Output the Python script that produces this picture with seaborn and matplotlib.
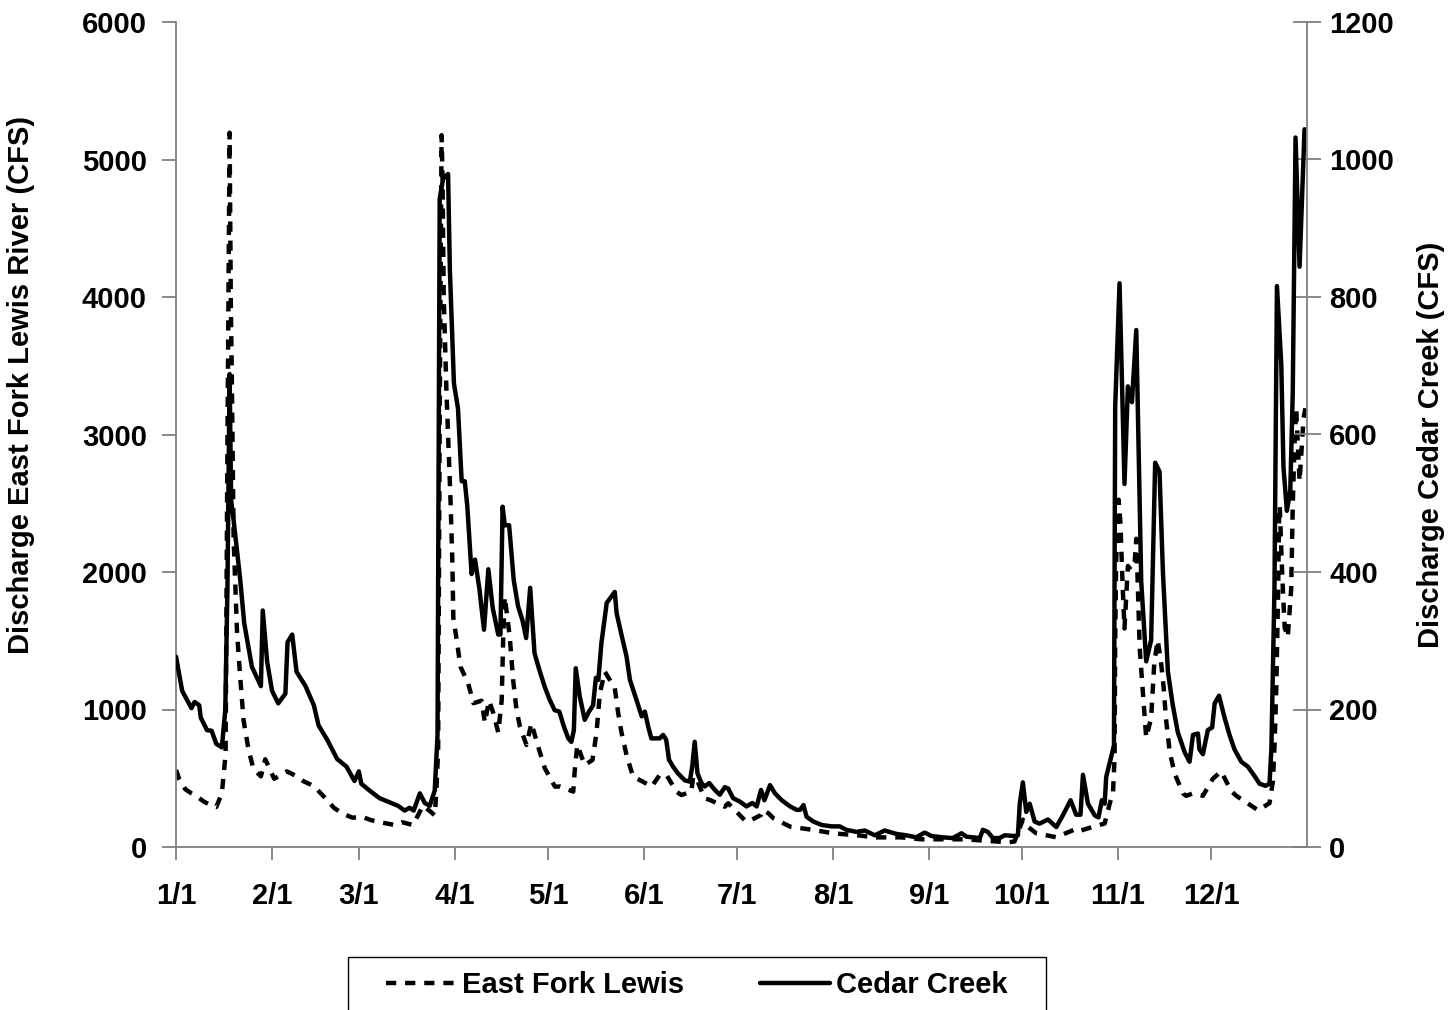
import matplotlib
matplotlib.use("Agg")
import matplotlib.pyplot as plt
from matplotlib.patches import Rectangle
import pandas as pd
import seaborn as sns

# ---- data -------------------------------------------------------------
month_ticks = [0, 31, 59, 90, 120, 151, 181, 212, 243, 273, 304, 334]
month_labels = ["1/1", "2/1", "3/1", "4/1", "5/1", "6/1",
                "7/1", "8/1", "9/1", "10/1", "11/1", "12/1"]

# East Fork Lewis River discharge (CFS), day of year
efl_day = [0, 1, 3, 5, 6.5, 9, 11.5, 13, 14.8, 16, 16.6, 17.3, 17.7, 18, 18.6,
           19.7, 20.7, 21.8, 23.4, 25, 27.4, 28.8, 31.7, 33.5, 35.8, 39, 41,
           44.5, 48, 51, 54, 57, 60, 63, 66, 70.5, 73, 76.5, 79.7, 82, 83.5,
           84, 84.6, 85.1, 85.7, 86, 86.4, 87.3, 87.9, 88.6, 89.2, 89.5, 90.7,
           91.8, 94.3, 96, 98.6, 99.7, 101, 102.4, 104, 105.1, 105.6, 106.1,
           107.7, 108.8, 109.9, 111, 113.1, 114.7, 116.9, 119, 122.3, 123.9,
           128.2, 128.7, 129.5, 131.9, 134.4, 135.7, 136.8, 138.4, 141.6,
           142.7, 143.8, 145.4, 147.5, 150.7, 153.5, 156.1, 158.3, 161.5,
           163.1, 166.3, 166.9, 167.9, 170.6, 172.3, 177.1, 178.2, 183.5,
           184.6, 188.8, 189.5, 191.2, 192.8, 198.2, 205.7, 212.2, 219, 226,
           234, 240.5, 248, 255, 262, 265, 268.5, 270.6, 273.3, 274.4, 277.6,
           284.1, 290.1, 291.2, 295.4, 299.7, 301.3, 302.4, 302.9, 303.1,
           303.4, 304.2, 304.8, 305, 305.5, 306.1, 307.2, 308.2, 309.4, 309.9,
           310.4, 311, 312, 313.1, 314.7, 315.7, 316.8, 317.8, 318.7, 319.5,
           320.7, 322.3, 325, 326, 328.2, 331.4, 334.6, 337.3, 340.5, 342.2,
           348.1, 349.2, 352.9, 354, 354.6, 355.1, 355.7, 356, 356.2, 356.7,
           357.2, 357.8, 358.8, 359.9, 360.4, 361, 361.5, 362, 362.6, 363.1,
           363.9, 364.5]
efl_cfs = [560, 496, 420, 390, 372, 330, 301, 291, 390, 674, 2943, 5195, 3936,
           3440, 2234, 1560, 1241, 922, 709, 567, 514, 638, 496, 520, 550, 514,
           480, 443, 360, 284, 240, 213, 220, 195, 180, 160, 180, 160, 301, 260,
           230, 390, 709, 3120, 5177, 4894, 4007, 3298, 2943, 2518, 2057, 1667,
           1489, 1312, 1188, 1046, 1064, 904, 1064, 975, 833, 1064, 1525, 1820,
           1530, 1214, 996, 875, 742, 900, 729, 574, 439, 440, 403, 560, 742,
           596, 633, 829, 1120, 1275, 1156, 974, 829, 669, 511, 475, 439, 524,
           524, 402, 378, 402, 511, 500, 354, 342, 293, 318, 196, 184, 233, 269,
           245, 209, 148, 124, 99, 87, 70, 70, 56, 56, 56, 44, 40, 34, 40, 199,
           156, 100, 71, 128, 114, 143, 171, 313, 398, 653, 1505, 2073, 2526,
           2356, 2214, 1902, 1589, 2044, 2015, 2073, 2242, 1902, 1447, 1135,
           795, 938, 1334, 1505, 1362, 1170, 930, 691, 532, 390, 372, 390, 372,
           496, 550, 408, 372, 284, 266, 319, 479, 780, 1170, 1879, 2411, 2482,
           2163, 1879, 1596, 1525, 1879, 2482, 2943, 3191, 2943, 2660, 2837,
           3121, 3191]

# Cedar Creek discharge (CFS), day of year
cedar_day = [0, 2, 5, 6, 7.5, 8, 10, 11.5, 13, 14.8, 15.9, 16.6, 17.3, 17.8,
             18.6, 20.7, 22, 24.5, 27.4, 28, 29.4, 31, 33, 35.3, 36, 37.5, 38.9,
             41.8, 44.5, 46, 48.8, 52, 55, 57.6, 59, 59.8, 62.5, 65.7, 69.5,
             71.6, 73.8, 75.4, 76.7, 78.7, 80.3, 81.9, 83.5, 84.4, 85.1, 86.2,
             87.8, 88.4, 89.7, 91, 92.2, 93.2, 94, 95.4, 96.5, 97.9, 99.4,
             100.8, 102.2, 104, 104.7, 105.4, 106.1, 107.5, 109, 110.4, 111.8,
             113, 114.3, 115.7, 117.3, 119, 120.6, 122.2, 123.7, 125.2, 126.6,
             127.6, 128.4, 129, 130.3, 131.9, 133.3, 134.6, 135.5, 136.3,
             137.3, 139, 141.6, 142.2, 143.8, 145.4, 146.5, 148.6, 150.3,
             151.3, 152.4, 153.4, 156.1, 157.2, 158.2, 159.1, 160.4, 162,
             164.2, 165.8, 166.6, 167.4, 168.3, 169.6, 170.6, 172.1, 173.9,
             175.5, 177.1, 178.2, 179.8, 182, 184.1, 186, 187.4, 188.8, 189.9,
             191.7, 193.3, 195.5, 198.2, 200.3, 201.4, 202.5, 203.5, 205.7,
             208.4, 211.6, 214.2, 216.3, 219.6, 222.3, 225.5, 228.7, 232.5,
             235.7, 238.9, 241.6, 243.8, 247.5, 250.7, 253.5, 255.1, 259.4,
             260.4, 262, 263.6, 265.8, 267.4, 270.6, 271.7, 272.3, 273.3,
             274.4, 275.5, 277.1, 278.7, 281.4, 284.1, 286.2, 288.7, 290.5,
             291.9, 292.7, 294.3, 296.5, 297.7, 298.8, 299.7, 300.2, 301.8,
             302.7, 303.1, 304.5, 306.1, 307.2, 308.5, 309.9, 311.5, 313.1,
             314.7, 316, 317.4, 318.5, 320.1, 321.7, 323.3, 325.5, 327.1,
             328.2, 329.8, 330.3, 331.4, 333, 334.4, 335.2, 336.6, 338.4, 340,
             341.6, 343.8, 345.9, 348.1, 349.7, 351.6, 352.9, 353.5, 354.5,
             355.3, 356.7, 357.4, 358.5, 359.6, 360.4, 361.3, 362.6, 364.2]
cedar_cfs = [277, 227, 202, 211, 206, 188, 170, 169, 150, 145, 199, 376, 688,
             504, 475, 390, 326, 262, 234, 344, 270, 227, 209, 223, 298, 309,
             255, 234, 206, 177, 156, 128, 117, 96, 110, 92, 82, 71, 64, 60, 53,
             57, 53, 78, 64, 60, 82, 163, 943, 972, 979, 837, 674, 638, 532, 532,
             496, 397, 418, 376, 316, 404, 348, 309, 309, 495, 468, 468, 388,
             350, 330, 304, 377, 282, 257, 233, 214, 199, 197, 175, 158, 153,
             170, 260, 219, 185, 197, 206, 246, 243, 297, 355, 371, 340, 308,
             277, 243, 214, 190, 197, 175, 158, 158, 163, 156, 127, 117, 107, 97,
             95, 117, 153, 107, 93, 88, 93, 83, 76, 87, 85, 71, 66, 59, 64, 59,
             83, 68, 90, 78, 68, 59, 54, 54, 61, 44, 37, 32, 30, 30, 25, 22, 24,
             17, 24, 19, 17, 14, 21, 16, 14, 13, 20, 15, 13, 25, 22, 13, 13, 17,
             16, 17, 63, 94, 51, 63, 37, 34, 40, 29, 46, 68, 47, 47, 105, 63, 46,
             43, 68, 63, 102, 131, 148, 641, 820, 528, 670, 647, 752, 386, 270,
             301, 559, 546, 400, 255, 206, 167, 138, 124, 163, 165, 142, 135,
             170, 174, 209, 220, 188, 163, 142, 124, 117, 103, 92, 89, 92, 142,
             376, 816, 702, 553, 489, 518, 660, 1032, 844, 1044]

efl = pd.DataFrame({"day": efl_day, "cfs": efl_cfs})
cedar = pd.DataFrame({"day": cedar_day, "cfs": cedar_cfs})

# ---- style ------------------------------------------------------------
sns.set_theme(style="white")
plt.rcParams["font.family"] = ["Liberation Sans", "DejaVu Sans"]
plt.rcParams.update({"text.color": "black", "axes.labelcolor": "black",
                     "xtick.color": "black", "ytick.color": "black"})

grey = "#808080"
fs = 21

fig = plt.figure(figsize=(14.48, 10.10), dpi=100)
ax = fig.add_axes([176 / 1448, 1 - 847 / 1010, 1131 / 1448, 825 / 1010])
ax2 = ax.twinx()

sns.lineplot(data=efl, x="day", y="cfs", ax=ax, color="black", lw=3.2,
             sort=False, legend=False)
sns.lineplot(data=cedar, x="day", y="cfs", ax=ax2, color="black", lw=3.2,
             sort=False, legend=False)
efl_line = ax.get_lines()[0]
efl_line.set_linestyle((0, (2.3, 2.0)))
cedar_line = ax2.get_lines()[0]

ax.set_xlim(0, 365)
ax.set_ylim(0, 6000)
ax2.set_ylim(0, 1200)
ax.set_yticks(range(0, 6001, 1000))
ax2.set_yticks(range(0, 1201, 200))
ax.set_xticks(month_ticks)
ax.set_xticklabels(month_labels)

for a in (ax, ax2):
    a.set_facecolor("none")
    for s in a.spines.values():
        s.set_color(grey)
        s.set_linewidth(1.3)
    a.spines["top"].set_visible(False)
    a.grid(False)
ax.spines["right"].set_visible(False)
ax2.spines["left"].set_visible(False)
ax2.spines["bottom"].set_visible(False)

ax.tick_params(axis="y", direction="out", length=10, width=1.3, color=grey,
               left=True, pad=11, labelsize=fs, labelcolor="black")
ax.tick_params(axis="x", direction="out", length=9, width=1.3, color=grey,
               bottom=True, pad=16, labelsize=fs, labelcolor="black")
ax2.tick_params(axis="y", direction="inout", length=20, width=1.3, color=grey,
                right=True, pad=6, labelsize=fs, labelcolor="black")
for lab in ax.get_xticklabels() + ax.get_yticklabels() + ax2.get_yticklabels():
    lab.set_fontweight("bold")

ax.set_xlabel("")
ax.set_ylabel("Discharge East Fork Lewis River (CFS)", fontsize=21,
              fontweight="bold")
ax2.set_ylabel("Discharge Cedar Creek (CFS)", fontsize=21, fontweight="bold")
ax.yaxis.set_label_coords(-0.125, 0.56)
ax2.yaxis.set_label_coords(1.097, 0.487)

# legend box (runs off the bottom edge of the figure)
fig.patches.append(Rectangle((348 / 1448, -0.05), 698 / 1448,
                             0.05 + 1 - 957 / 1010,
                             transform=fig.transFigure, facecolor="white",
                             edgecolor="black", linewidth=1.0, zorder=0))
fig.legend([efl_line, cedar_line], ["East Fork Lewis", "Cedar Creek"],
           loc="center", bbox_to_anchor=(697 / 1448, 1 - 985 / 1010),
           ncol=2, frameon=False, prop=dict(size=fs, weight="bold"),
           handlelength=2.4, handletextpad=0.2, columnspacing=2.6,
           borderpad=0, borderaxespad=0)

fig.savefig("out.png", dpi=100)
